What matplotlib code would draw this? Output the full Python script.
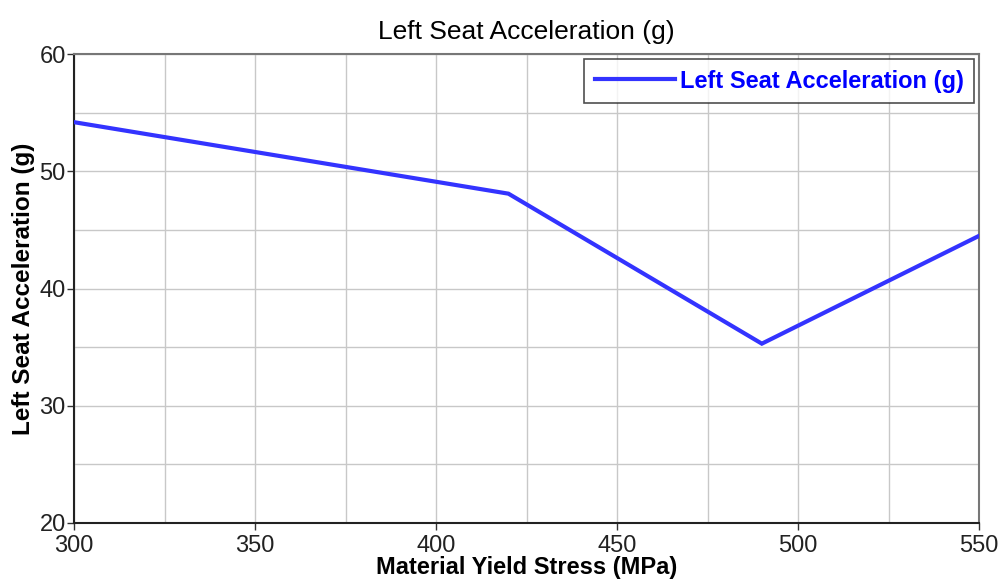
import matplotlib
matplotlib.use("Agg")
import matplotlib.pyplot as plt
from matplotlib.ticker import MultipleLocator

plt.rcParams['font.family'] = ['Liberation Sans', 'DejaVu Sans']

# data
yield_stress = [300, 420, 490, 550]
seat_accel = [54.2, 48.1, 35.3, 44.5]
series_name = 'Left Seat Acceleration (g)'

fig = plt.figure(figsize=(10.06, 5.83), dpi=100)
ax = fig.add_axes([0.0736, 0.103, 0.8996, 0.804])

ax.plot(yield_stress, seat_accel, color='#3333ff', lw=3, label=series_name,
        solid_joinstyle='miter', zorder=3)

ax.set_xlim(300, 550)
ax.set_ylim(20, 60)
ax.xaxis.set_major_locator(MultipleLocator(50))
ax.xaxis.set_minor_locator(MultipleLocator(25))
ax.yaxis.set_major_locator(MultipleLocator(10))
ax.yaxis.set_minor_locator(MultipleLocator(5))
ax.grid(which='both', color='#c8c8c8', lw=1)
ax.set_axisbelow(True)

ax.tick_params(which='major', length=5, width=1, color='#333333',
               labelsize=17, labelcolor='#222222')
ax.tick_params(axis='x', pad=4)
ax.tick_params(axis='y', pad=1)
ax.tick_params(which='minor', length=0)

for s in ['left', 'bottom']:
    ax.spines[s].set_color('#222222')
    ax.spines[s].set_linewidth(1.5)
for s in ['top', 'right']:
    ax.spines[s].set_color('#777777')
    ax.spines[s].set_linewidth(1.5)

ax.set_title(series_name, fontsize=19, pad=11)
ax.set_xlabel('Material Yield Stress (MPa)', fontsize=17, fontweight='bold', labelpad=-1)
ax.set_ylabel('Left Seat Acceleration (g)', fontsize=17.5, fontweight='bold', labelpad=3)

leg = ax.legend(loc='upper right', fontsize=17, frameon=True, fancybox=False,
                edgecolor='#222222', handlelength=3.4, handletextpad=0.2,
                borderaxespad=0.2, borderpad=0.45)
leg.get_frame().set_linewidth(1.2)
for t in leg.get_texts():
    t.set_color('#0000ff')
    t.set_fontweight('bold')

fig.savefig('out.png', dpi=100)
